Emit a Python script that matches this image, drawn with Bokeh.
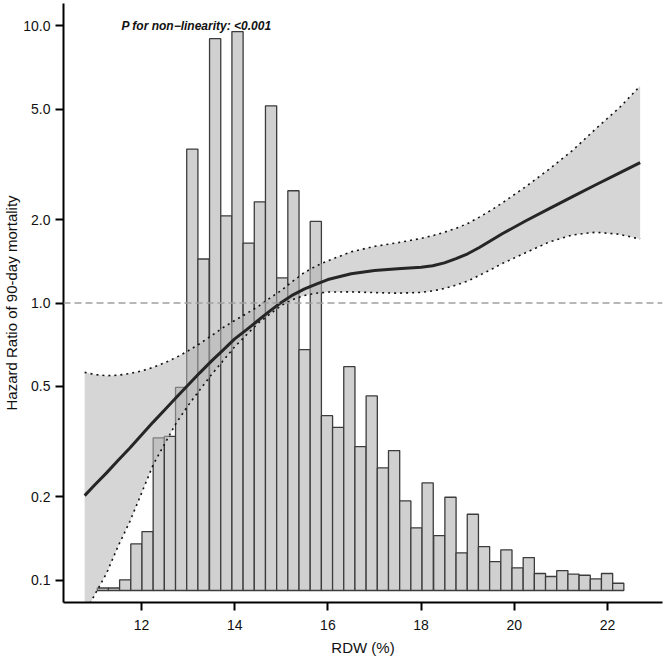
from bokeh.plotting import figure
from bokeh.models import Range1d, FixedTicker, PrintfTickFormatter, Span
from bokeh.core.properties import value
from bokeh.embed import file_html
from bokeh.resources import INLINE

# ---- histogram of RDW (bars drawn on the hazard-ratio axis, as in the source) ----
bin_left = [11.05, 11.29, 11.53, 11.77, 12.01, 12.25, 12.49, 12.73, 12.97, 13.21,
            13.46, 13.70, 13.94, 14.18, 14.42, 14.66, 14.90, 15.14, 15.38, 15.62,
            15.86, 16.10, 16.34, 16.58, 16.82, 17.06, 17.30, 17.54, 17.78, 18.02,
            18.27, 18.51, 18.75, 18.99, 19.23, 19.47, 19.71, 19.95, 20.19, 20.43,
            20.67, 20.91, 21.15, 21.39, 21.63, 21.87, 22.11]
bin_width = 0.2405
bin_top = [0.0938, 0.0938, 0.1004, 0.1353, 0.1499, 0.3263, 0.3306, 0.4965, 3.589, 1.441,
           8.98, 2.063, 9.52, 1.645, 2.317, 5.14, 1.231, 2.540, 0.679, 1.968,
           0.3925, 0.3561, 0.5895, 0.3035, 0.4623, 0.2543, 0.2936, 0.1934, 0.1546, 0.2245,
           0.1450, 0.1993, 0.1256, 0.1731, 0.1323, 0.1168, 0.1288, 0.1109, 0.1208, 0.1058,
           0.1032, 0.1084, 0.1052, 0.1043, 0.1012, 0.1058, 0.0976]
bar_base = 0.0919

# ---- restricted cubic spline: HR and 95% CI ----
rdw = [10.78, 11.0, 11.25, 11.5, 11.75, 12.0, 12.25, 12.5, 12.75, 13.0,
       13.25, 13.5, 13.75, 14.0, 14.25, 14.5, 14.75, 15.0, 15.25, 15.5,
       15.75, 16.0, 16.5, 17.0, 17.5, 18.0, 18.25, 18.5, 18.75, 19.0,
       19.25, 19.5, 19.75, 20.25, 20.75, 21.25, 21.75, 22.25, 22.70]
hr = [0.202, 0.221, 0.244, 0.271, 0.300, 0.334, 0.372, 0.412, 0.457, 0.506,
      0.560, 0.617, 0.676, 0.742, 0.800, 0.865, 0.935, 1.005, 1.070, 1.125,
      1.170, 1.215, 1.275, 1.310, 1.328, 1.345, 1.362, 1.395, 1.445, 1.505,
      1.585, 1.680, 1.780, 1.980, 2.190, 2.420, 2.670, 2.940, 3.210]
hr_hi = [0.562, 0.552, 0.547, 0.549, 0.557, 0.569, 0.586, 0.609, 0.637, 0.672,
         0.713, 0.762, 0.815, 0.865, 0.915, 0.970, 1.040, 1.110, 1.200, 1.290,
         1.360, 1.420, 1.530, 1.600, 1.650, 1.710, 1.750, 1.800, 1.860, 1.935,
         2.040, 2.160, 2.300, 2.630, 3.040, 3.550, 4.250, 5.050, 6.060]
hr_lo = [0.0755, 0.089, 0.106, 0.133, 0.163, 0.206, 0.261, 0.311, 0.370, 0.427,
         0.486, 0.551, 0.619, 0.695, 0.767, 0.845, 0.910, 0.980, 1.030, 1.065,
         1.085, 1.095, 1.097, 1.090, 1.085, 1.092, 1.105, 1.128, 1.160, 1.200,
         1.258, 1.320, 1.390, 1.520, 1.660, 1.760, 1.800, 1.770, 1.700]

x_ticks = [12, 14, 16, 18, 20, 22]
y_ticks = [0.1, 0.2, 0.5, 1.0, 2.0, 5.0, 10.0]
ref_hr = 1.0
p_text = "P for non\u2212linearity: <0.001"

FONT = "Liberation Sans"

p = figure(frame_width=599, frame_height=599,
           x_range=Range1d(10.326, 23.18),
           y_range=Range1d(10 ** -1.08, 10 ** 1.08),
           y_axis_type="log",
           output_backend="svg", toolbar_location=None,
           min_border_left=63, min_border_right=3,
           min_border_top=1, min_border_bottom=56)
p.margin = (2, 0, -8, 0)
p.outline_line_color = None
p.xgrid.grid_line_color = None
p.ygrid.grid_line_color = None
p.background_fill_color = "white"
p.border_fill_color = "white"

# bars
p.quad(left=bin_left, right=[l + bin_width for l in bin_left],
       bottom=bar_base, top=bin_top,
       fill_color="#D0D0D0", line_color="#3C3C3C", line_width=1.3)

# confidence band
p.varea(x=rdw, y1=hr_lo, y2=hr_hi, fill_color="#B4B4B4", fill_alpha=0.55)

# reference line
p.add_layout(Span(location=ref_hr, dimension="width", line_color="#A0A0A0",
                  line_dash="7 4", line_width=1.5))

# CI limits
p.line(rdw, hr_hi, line_color="#111111", line_width=1.6, line_dash="2 4")
p.line(rdw, hr_lo, line_color="#111111", line_width=1.6, line_dash="2 4")

# HR curve
p.line(rdw, hr, line_color="#262626", line_width=3, line_join="round")

# annotation
p.text(x=[13.18], y=[10.0], text=[p_text], text_font=value(FONT),
       text_font_size="12px", text_font_style="bold italic",
       text_align="center", text_baseline="middle", text_color="#111111")

# axes
for ax in (p.xaxis[0], p.yaxis[0]):
    ax.axis_line_width = 2
    ax.axis_line_color = "black"
    ax.major_tick_line_width = 2
    ax.major_tick_line_color = "black"
    ax.major_tick_in = 0
    ax.major_tick_out = 8
    ax.minor_tick_line_color = None
    ax.major_label_text_font = FONT
    ax.major_label_text_font_size = "14px"
    ax.major_label_text_color = "#111111"
    ax.axis_label_text_font = FONT
    ax.axis_label_text_font_size = "15px"
    ax.axis_label_text_font_style = "normal"
    ax.axis_label_text_color = "#111111"

p.xaxis.ticker = FixedTicker(ticks=x_ticks)
p.yaxis.ticker = FixedTicker(ticks=y_ticks)
p.yaxis.formatter = PrintfTickFormatter(format="%.1f")
p.xaxis.major_label_standoff = 9
p.yaxis.major_label_standoff = 5
p.xaxis.axis_label = "RDW (%)"
p.yaxis.axis_label = "Hazard Ratio of 90-day mortality"
p.xaxis.axis_label_standoff = 6
p.yaxis.axis_label_standoff = 0

open("out.html", "w").write(file_html(p, INLINE))
